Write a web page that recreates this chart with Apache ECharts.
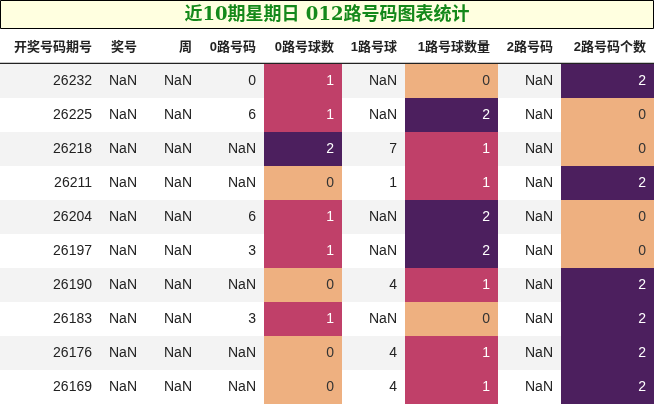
<!DOCTYPE html>
<html><head><meta charset="utf-8">
<script src="https://cdn.jsdelivr.net/npm/echarts@6/dist/echarts.min.js"></script>
<style>html,body{margin:0;padding:0;background:#fff}#c{width:654px;height:405px}</style>
</head><body><div id="c"></div>
<script>
const titleText = '近10期星期日 012路号码图表统计';
const headers = ['开奖号码期号','奖号','周','0路号码','0路号球数','1路号球','1路号球数量','2路号码','2路号码个数'];
const issues = ['26232','26225','26218','26211','26204','26197','26190','26183','26176','26169'];
const draws = ['8,0,2','1,1,6','0,7,9','5,1,5','6,7,4','4,7,3','5,5,4','3,5,2','5,8,4','8,8,4'];
const weekdays = ['星期日','星期日','星期日','星期日','星期日','星期日','星期日','星期日','星期日','星期日'];
const route0 = ['0','6','0,9','无','6','3','无','3','无','无'];
const route0Count = [1,1,2,0,1,1,0,1,0,0];
const route1 = ['无','1,1','7','1','7,4','4,7','4','无','4','4'];
const route1Count = [0,2,1,1,2,2,1,0,1,1];
const route2 = ['8,2','无','无','5,5','无','无','5,5','5,2','5,8','8,8'];
const route2Count = [2,0,0,2,0,0,2,2,2,2];

const colEdges = [0,100,145,200,264,342,405,498,561,654];
const countColors = ['#eeb080','#c04069','#4c1f5e'];
const countText = ['#333','#fff','#fff'];
const columns = [issues,draws,weekdays,route0,route0Count,route1,route1Count,route2,route2Count];
const countCols = {4:true,6:true,8:true};

const data = [];
for (let r=0;r<issues.length;r++) for (let c=0;c<columns.length;c++) data.push([c,r,columns[c][r]]);

const graphics = [
  {type:'rect',shape:{x:0.5,y:0.5,width:653,height:28},style:{fill:'#ffffe0',stroke:'#000',lineWidth:1}},
  {type:'text',x:327,y:15,style:{text:titleText,fill:'#14891a',font:'bold 18px "DejaVu Serif", "Noto Sans CJK SC"',align:'center',verticalAlign:'middle'}},
  {type:'line',shape:{x1:0,y1:63.5,x2:654,y2:63.5},style:{stroke:'#222',lineWidth:1.5}}
];
headers.forEach((h,i)=>graphics.push({type:'text',x:colEdges[i+1]-8,y:47,style:{text:h,fill:'#222',font:'bold 13px "Liberation Sans", "Noto Sans CJK SC"',align:'right',verticalAlign:'middle'}}));

const chart = echarts.init(document.getElementById('c'));
chart.setOption({
  animation:false,
  grid:{left:0,right:0,top:64,bottom:1},
  xAxis:{type:'value',min:0,max:654,show:false},
  yAxis:{type:'category',data:issues,inverse:true,show:false},
  graphic:graphics,
  series:[{
    type:'custom',data:data,
    renderItem:function(params,api){
      const c=api.value(0), r=api.value(1), v=api.value(2);
      const p=api.coord([0,r]); const h=api.size([0,1])[1];
      const x0=api.coord([colEdges[c],r])[0], x1=api.coord([colEdges[c+1],r])[0];
      const top=p[1]-h/2;
      const children=[];
      let fill = r%2===0?'#f3f3f3':'#ffffff', tc='#222';
      if (countCols[c]) { fill=countColors[v]; tc=countText[v]; }
      children.push({type:'rect',shape:{x:x0,y:top,width:x1-x0,height:h},style:{fill:fill}});
      children.push({type:'text',x:x1-8,y:p[1],style:{text:String(v),fill:tc,font:'14px "Liberation Sans", "Noto Sans CJK SC"',align:'right',verticalAlign:'middle'}});
      return {type:'group',children:children};
    }
  }]
});
</script></body></html>
